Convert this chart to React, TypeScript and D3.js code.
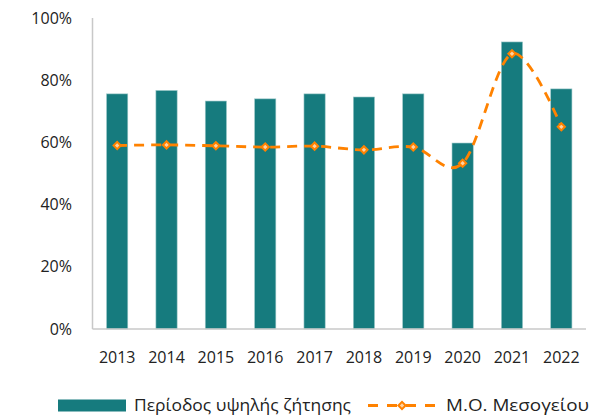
import * as d3 from "d3";
import { useEffect, useRef } from "react";

const years = ["2013", "2014", "2015", "2016", "2017", "2018", "2019", "2020", "2021", "2022"];
const peakSeason = [75.6, 76.7, 73.3, 74.0, 75.6, 74.6, 75.6, 59.8, 92.3, 77.2];
const medAverage = [59.0, 59.2, 58.9, 58.5, 58.8, 57.6, 58.5, 53.3, 88.5, 65.0];
const yTicks = [0, 20, 40, 60, 80, 100];

const barName = "Περίοδος υψηλής ζήτησης";
const lineName = "Μ.Ο. Μεσογείου";

const TEAL = "#167b7e";
const ORANGE = "#ff8200";
const FONT = "'Open Sans', 'Noto Sans', sans-serif";

function App() {
  const ref = useRef<SVGSVGElement>(null);
  const width = 606;
  const height = 418;
  const margin = { top: 18, right: 20, bottom: 89, left: 92.5 };

  useEffect(() => {
    const svg = d3.select(ref.current);
    svg.selectAll("*").remove();

    const x = d3
      .scaleBand()
      .domain(years)
      .range([margin.left, width - margin.right])
      .paddingInner(0.57)
      .paddingOuter(0.285);
    const y = d3
      .scaleLinear()
      .domain([0, 100])
      .range([height - margin.bottom, margin.top]);

    // bars
    svg
      .append("g")
      .selectAll("rect")
      .data(peakSeason)
      .join("rect")
      .attr("x", (_, i) => x(years[i])!)
      .attr("y", (d) => y(d))
      .attr("width", x.bandwidth())
      .attr("height", (d) => y(0) - y(d))
      .attr("fill", TEAL)
      .attr("stroke", "#9cc8c9")
      .attr("stroke-width", 0.6);

    // axis lines
    svg
      .append("line")
      .attr("x1", margin.left)
      .attr("x2", margin.left)
      .attr("y1", y(100))
      .attr("y2", y(0))
      .attr("stroke", "#c8c8c8")
      .attr("stroke-width", 1.5);
    svg
      .append("line")
      .attr("x1", margin.left)
      .attr("x2", width - margin.right)
      .attr("y1", y(0))
      .attr("y2", y(0))
      .attr("stroke", "#c8c8c8")
      .attr("stroke-width", 1.5);

    // y tick labels
    svg
      .append("g")
      .selectAll("text")
      .data(yTicks)
      .join("text")
      .attr("x", 72)
      .attr("y", (d) => y(d))
      .attr("dy", "0.35em")
      .attr("text-anchor", "end")
      .attr("font-family", FONT)
      .attr("font-size", 16)
      .attr("fill", "#222")
      .text((d) => `${d}%`);

    // x tick labels
    svg
      .append("g")
      .selectAll("text")
      .data(years)
      .join("text")
      .attr("x", (d) => x(d)! + x.bandwidth() / 2)
      .attr("y", 357)
      .attr("dy", "0.35em")
      .attr("text-anchor", "middle")
      .attr("font-family", FONT)
      .attr("font-size", 16)
      .attr("fill", "#222")
      .text((d) => d);

    // smoothed line
    const line = d3
      .line<number>()
      .x((_, i) => x(years[i])! + x.bandwidth() / 2)
      .y((d) => y(d))
      .curve(d3.curveCardinal.tension(0));
    svg
      .append("path")
      .attr("d", line(medAverage))
      .attr("fill", "none")
      .attr("stroke", ORANGE)
      .attr("stroke-width", 2.8)
      .attr("stroke-dasharray", "10,7");

    const marker = d3.symbol().type(d3.symbolSquare).size(26);
    svg
      .append("g")
      .selectAll("path")
      .data(medAverage)
      .join("path")
      .attr("d", marker)
      .attr("transform", (d, i) => `translate(${x(years[i])! + x.bandwidth() / 2},${y(d)}) rotate(45)`)
      .attr("fill", "#ffd3a3")
      .attr("stroke", ORANGE)
      .attr("stroke-width", 2);

    // legend
    const lg = svg.append("g");
    lg.append("rect")
      .attr("x", 58)
      .attr("y", 399.5)
      .attr("width", 68)
      .attr("height", 12)
      .attr("fill", TEAL);
    lg.append("text")
      .attr("x", 134)
      .attr("y", 405.5)
      .attr("dy", "0.35em")
      .attr("font-family", FONT)
      .attr("font-size", 17)
      .attr("fill", "#222")
      .attr("textLength", 217)
      .attr("lengthAdjust", "spacingAndGlyphs")
      .text(barName);
    lg.append("line")
      .attr("x1", 368)
      .attr("x2", 436)
      .attr("y1", 405.5)
      .attr("y2", 405.5)
      .attr("stroke", ORANGE)
      .attr("stroke-width", 2.8)
      .attr("stroke-dasharray", "10,9");
    lg.append("path")
      .attr("d", marker)
      .attr("transform", "translate(402,405.5) rotate(45)")
      .attr("fill", "#ffd3a3")
      .attr("stroke", ORANGE)
      .attr("stroke-width", 2);
    lg.append("text")
      .attr("x", 446)
      .attr("y", 405.5)
      .attr("dy", "0.35em")
      .attr("font-family", FONT)
      .attr("font-size", 17)
      .attr("fill", "#222")
      .attr("textLength", 143)
      .attr("lengthAdjust", "spacingAndGlyphs")
      .text(lineName);
  }, []);

  return (
    <svg
      ref={ref}
      width={width}
      height={height}
      viewBox={`0 0 ${width} ${height}`}
      style={{ position: "absolute", left: 0, top: 0, background: "#fff" }}
    />
  );
}

export default App;
